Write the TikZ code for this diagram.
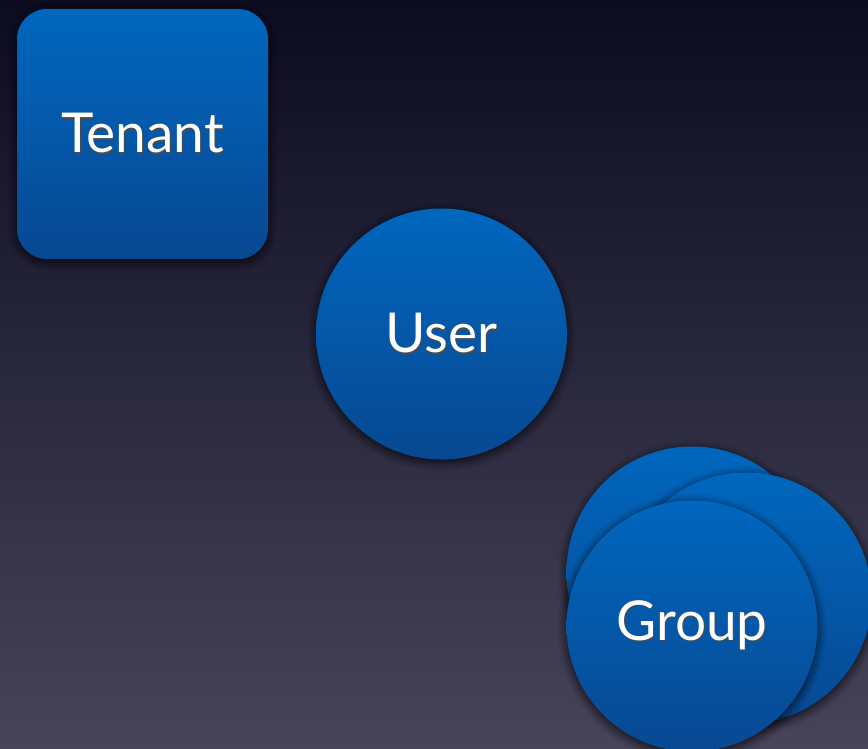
\documentclass[tikz,border=0pt]{standalone}
\usepackage{fontspec}
\setmainfont{Lato}
\usetikzlibrary{shadows.blur}
\definecolor{bgtop}{HTML}{0C0B20}
\definecolor{bgbot}{HTML}{47445A}
\definecolor{shtop}{HTML}{0067BE}
\definecolor{shbot}{HTML}{084892}
\tikzset{
  blob/.style={top color=shtop, bottom color=shbot, draw=none, inner sep=0pt,
    text=white, font=\fontsize{55}{60}\selectfont,
    blur shadow={shadow xshift=0pt, shadow yshift=-3pt, shadow blur radius=9pt, shadow opacity=80, shadow blur steps=10}},
  roundbox/.style={blob, rectangle, rounded corners=30pt, minimum width=251pt, minimum height=250pt},
  disc/.style={blob, circle, minimum size=251pt},
}
\newcommand{\shtext}[1]{\rlap{\raisebox{-1.5pt}{\hspace{1pt}\textcolor{black!70}{#1}}}#1}
\begin{document}
\begin{tikzpicture}[x=1pt,y=1pt]
\useasboundingbox (0,0) rectangle (868,-748);
\fill[top color=bgtop, bottom color=bgbot] (0,0) rectangle (868,-748);
\node[roundbox] (tenant) at (142.5,-134) {\shtext{Tenant}};
\node[disc] (user) at (441.5,-334) {\shtext{User}};
\node[disc] (groupa) at (692,-572) {};
\node[disc] (groupb) at (746,-598) {};
\node[disc] (group) at (692,-626) {\raisebox{-3pt}{\shtext{Group}}};
\end{tikzpicture}
\end{document}
